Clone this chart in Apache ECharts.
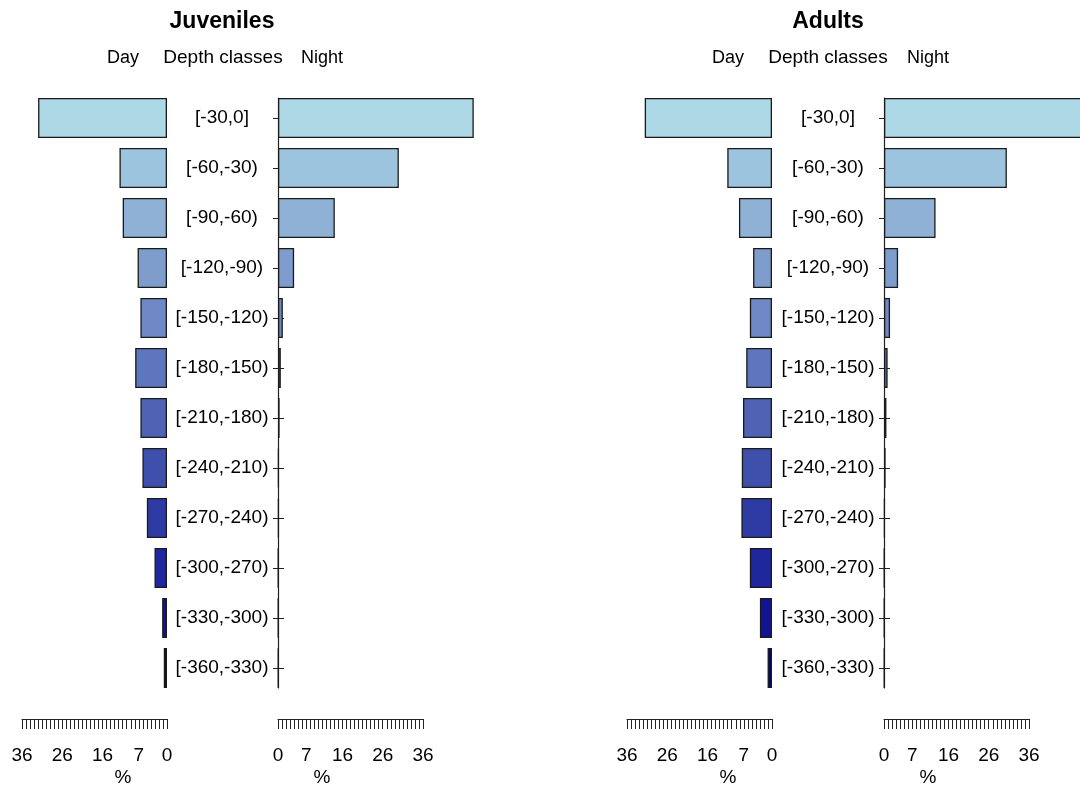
<!DOCTYPE html>
<html>
<head>
<meta charset="utf-8">
<script src="https://cdn.jsdelivr.net/npm/echarts@6/dist/echarts.min.js"></script>
<style>html,body{margin:0;padding:0;background:#fff}#c{width:1080px;height:785px}</style>
</head>
<body>
<div id="c"></div>
<script>
var categories = ['[-30,0]','[-60,-30)','[-90,-60)','[-120,-90)','[-150,-120)','[-180,-150)','[-210,-180)','[-240,-210)','[-270,-240)','[-300,-270)','[-330,-300)','[-360,-330)'];
var juvDay     = [32.0, 11.8, 11.0, 7.3, 6.6, 7.9, 6.6, 6.1, 5.0, 3.1, 1.2, 0.8];
var juvNight   = [48.6, 30.0, 14.1, 4.0, 1.2, 0.7, 0.4, 0.2, 0.2, 0.1, 0.1, 0.1];
var adultDay   = [31.6, 11.1, 8.2, 4.7, 5.5, 6.4, 7.2, 7.5, 7.6, 5.5, 3.0, 1.1];
var adultNight = [50.5, 30.5, 12.8, 3.5, 1.5, 0.9, 0.6, 0.4, 0.2, 0.1, 0.1, 0.1];
var tickLabels = [0, 7, 16, 26, 36];
var palette = ['#ADD8E6','#9DC4DE','#8EB1D5','#7E9DCD','#6E89C5','#5E76BD','#4F62B4','#3F4FAC','#2F3BA4','#1F279C','#101493','#00008B'];

var FONT = '"Liberation Sans", Arial, sans-serif';
var chart = echarts.init(document.getElementById('c'), null, {renderer: 'canvas'});

var panels = [
  {day: juvDay, night: juvNight, dayLeft: 22, nightLeft: 278},
  {day: adultDay, night: adultNight, dayLeft: 627, nightLeft: 884}
];

var grids = [], xAxes = [], yAxes = [], series = [];
function bottomAxis(gi, inverse) {
  xAxes.push({
    type: 'value', gridIndex: gi, min: 0, max: 36, interval: 1, inverse: inverse,
    position: 'bottom', offset: 26,
    axisLine: {show: true, lineStyle: {color: '#222', width: 1}},
    axisTick: {show: true, length: 10, lineStyle: {color: '#222', width: 1}},
    axisLabel: {show: true, margin: 27, fontSize: 19, fontFamily: FONT, color: '#000',
      formatter: function (v) { return tickLabels.indexOf(v) >= 0 ? String(v) : ''; }},
    splitLine: {show: false}
  });
}
panels.forEach(function (p, k) {
  var gd = grids.length;
  grids.push({left: p.dayLeft, width: 145, top: 93, height: 600});
  bottomAxis(gd, true);
  var yd = yAxes.length;
  yAxes.push({type: 'category', gridIndex: gd, data: categories, inverse: true, show: false});
  series.push({
    type: 'bar', xAxisIndex: xAxes.length - 1, yAxisIndex: yd, data: p.day, barWidth: 40, clip: false,
    itemStyle: {color: function (q) { return palette[q.dataIndex]; }, borderColor: '#1a1a1a', borderWidth: 1.3}
  });
  var gn = grids.length;
  grids.push({left: p.nightLeft, width: 145, top: 93, height: 600});
  bottomAxis(gn, false);
  var xn = xAxes.length - 1;
  var yn = yAxes.length;
  yAxes.push({
    type: 'category', gridIndex: gn, data: categories, inverse: true, position: 'left',
    axisLine: {show: false},
    axisTick: {show: true, alignWithLabel: true, length: 5, lineStyle: {color: '#222'}},
    axisLabel: {show: true, align: 'center', margin: 56, fontSize: 19, fontFamily: FONT, color: '#000'}
  });
  yAxes.push({
    type: 'category', gridIndex: gn, data: categories, inverse: true, position: 'left',
    axisLine: {show: false},
    axisTick: {show: true, inside: true, alignWithLabel: true, length: 6, lineStyle: {color: '#222'}},
    axisLabel: {show: false}
  });
  series.push({
    type: 'bar', xAxisIndex: xn, yAxisIndex: yn, data: p.night, barWidth: 40, clip: false,
    itemStyle: {color: function (q) { return palette[q.dataIndex]; }, borderColor: '#1a1a1a', borderWidth: 1.3}
  });
  var gl = grids.length;
  grids.push({left: p.nightLeft, width: 145, top: 98, height: 590});
  xAxes.push({type: 'value', gridIndex: gl, show: false, min: 0, max: 1});
  yAxes.push({type: 'value', gridIndex: gl, min: 0, max: 1, position: 'left',
    axisLine: {show: true, lineStyle: {color: '#222', width: 1.2}},
    axisTick: {show: false}, axisLabel: {show: false}, splitLine: {show: false}});
});

function txt(t, x, y, size, bold) {
  return {type: 'text', x: x, y: y, z: 10, style: {text: t, font: (bold ? 'bold ' : '') + size + 'px ' + FONT,
    fill: '#000', textAlign: 'center', textVerticalAlign: 'middle'}};
}
var graphics = [
  txt('Juveniles', 222, 22, 23, true), txt('Adults', 828, 22, 23, true),
  txt('Day', 123, 58, 18), txt('Depth classes', 223, 58, 19), txt('Night', 322, 58, 18),
  txt('Day', 728, 58, 18), txt('Depth classes', 828, 58, 19), txt('Night', 928, 58, 18),
  txt('%', 123, 778, 19), txt('%', 322, 778, 19), txt('%', 728, 778, 19), txt('%', 928, 778, 19)
];

chart.setOption({
  animation: false,
  backgroundColor: '#fff',
  grid: grids, xAxis: xAxes, yAxis: yAxes, series: series,
  graphic: graphics
});
</script>
</body>
</html>
